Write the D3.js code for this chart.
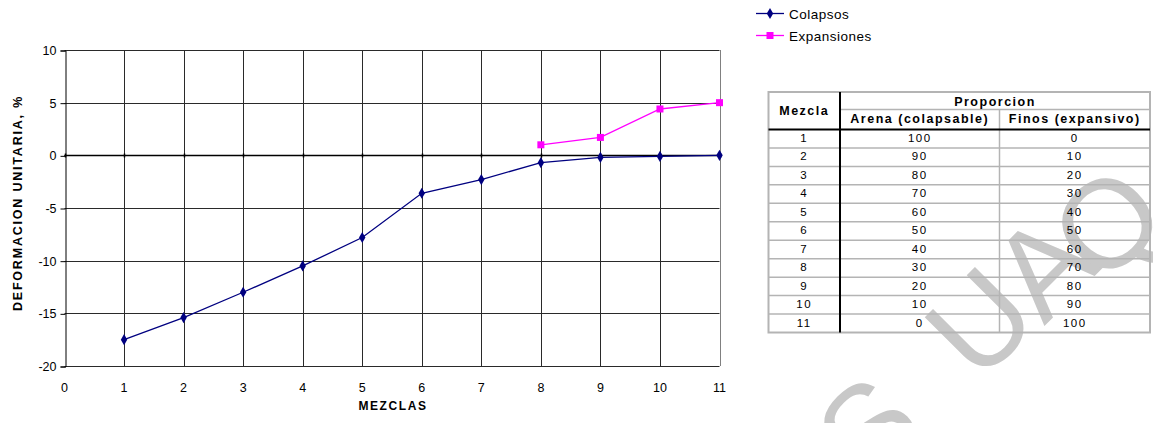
<!DOCTYPE html>
<html>
<head>
<meta charset="utf-8">
<script src="https://cdn.jsdelivr.net/npm/d3@7"></script>
<style>
  html, body { margin: 0; padding: 0; background: #fff; }
  svg { display: block; font-family: "Liberation Sans", Arial, sans-serif; }
</style>
</head>
<body>
<svg id="chart" width="1153" height="423"></svg>
<script>
// Mixture number (x) for each measurement
const mezclas = [1, 2, 3, 4, 5, 6, 7, 8, 9, 10, 11];
// Unit deformation (%) – collapse
const colapsos = [-17.5, -15.4, -13.0, -10.5, -7.8, -3.6, -2.3, -0.7, -0.2, -0.1, 0.0];
// Unit deformation (%) – expansion, measured only for mixtures 8..11
const mezclasExp = [8, 9, 10, 11];
const expansiones = [1.0, 1.7, 4.4, 5.0];

// Axis ticks
const xTicks = [0, 1, 2, 3, 4, 5, 6, 7, 8, 9, 10, 11];
const yTicks = [-20, -15, -10, -5, 0, 5, 10];

// Proportion table
const tablaMezcla = [1, 2, 3, 4, 5, 6, 7, 8, 9, 10, 11];
const tablaArena = [100, 90, 80, 70, 60, 50, 40, 30, 20, 10, 0];
const tablaFinos = [0, 10, 20, 30, 40, 50, 60, 70, 80, 90, 100];

// Watermark letters
const marca = ["S", "U", "A", "Q"];

const svg = d3.select("#chart");

// Watermark, drawn first so the table sits on top of it
const marcaPos = [[868, 428], [980, 322], [1043, 266], [1107, 223]];
svg.append("g").selectAll("text").data(marca).join("text")
  .attr("transform", (d, i) => `translate(${marcaPos[i][0]},${marcaPos[i][1]}) rotate(-45)`)
  .attr("text-anchor", "middle")
  .attr("dominant-baseline", "central")
  .attr("font-size", 125)
  .attr("fill", "#c8c8c8")
  .text(d => d);

const x = d3.scaleLinear().domain([0, 11]).range([64.5, 719.5]);
const y = d3.scaleLinear().domain([-20, 10]).range([366, 50]);

const plot = svg.append("g");

// Horizontal gridlines
plot.append("g").selectAll("line").data(yTicks).join("line")
  .attr("x1", x(0)).attr("x2", x(11))
  .attr("y1", d => Math.round(y(d)) + 0.5).attr("y2", d => Math.round(y(d)) + 0.5)
  .attr("stroke", "#2a2a2a").attr("stroke-width", 1);

// Vertical gridlines
plot.append("g").selectAll("line").data(xTicks.filter(d => d > 0)).join("line")
  .attr("x1", d => Math.round(x(d)) + 0.5).attr("x2", d => Math.round(x(d)) + 0.5)
  .attr("y1", y(10)).attr("y2", y(-20))
  .attr("stroke", d => d === 11 ? "#808080" : "#2a2a2a").attr("stroke-width", 1);

// Value axis (left) with outward ticks
const yAxis = d3.axisLeft(y).tickValues(yTicks).tickSize(5).tickPadding(4).tickFormat(d => String(d));
const gy = plot.append("g").attr("transform", `translate(${Math.round(x(0)) + 0.5},0.5)`).call(yAxis);
gy.select(".domain").attr("stroke", "#000");
gy.selectAll(".tick line").attr("stroke", "#000");
gy.selectAll(".tick text").attr("font-size", 12.5).attr("fill", "#000")
  .attr("font-family", "'Liberation Sans', Arial, sans-serif");

// Category axis crossing at zero, small cross ticks
const gz = plot.append("g").attr("transform", `translate(0,${Math.round(y(0)) + 0.5})`);
gz.append("line").attr("x1", x(0)).attr("x2", x(11)).attr("stroke", "#000").attr("stroke-width", 1.3);
gz.selectAll("line.t").data(xTicks).join("line").attr("class", "t")
  .attr("x1", d => Math.round(x(d)) + 0.5).attr("x2", d => Math.round(x(d)) + 0.5)
  .attr("y1", -2).attr("y2", 2).attr("stroke", "#000").attr("stroke-width", 1.5);

// X tick labels at the bottom
plot.append("g").selectAll("text").data(xTicks).join("text")
  .attr("x", d => x(d)).attr("y", 392)
  .attr("text-anchor", "middle").attr("font-size", 12.5).attr("fill", "#000")
  .text(d => d);

// Axis titles
svg.append("text")
  .attr("x", 393).attr("y", 409.5)
  .attr("text-anchor", "middle").attr("font-size", 12).attr("font-weight", "bold")
  .attr("letter-spacing", 1.6)
  .text("MEZCLAS");

svg.append("text")
  .attr("transform", "translate(21.5,203) rotate(-90)")
  .attr("text-anchor", "middle").attr("font-size", 12.5).attr("font-weight", "bold")
  .attr("letter-spacing", 1.8)
  .text("DEFORMACION UNITARIA, %");

// Series lines
const colData = mezclas.map((m, i) => [m, colapsos[i]]);
const expData = mezclasExp.map((m, i) => [m, expansiones[i]]);
const line = d3.line().x(d => x(d[0])).y(d => y(d[1]));

plot.append("path").datum(colData).attr("d", line)
  .attr("fill", "none").attr("stroke", "#000080").attr("stroke-width", 1.3);
plot.append("path").datum(expData).attr("d", line)
  .attr("fill", "none").attr("stroke", "#ff00ff").attr("stroke-width", 1.3);

const diamond = d3.symbol().type(d3.symbolDiamond).size(36);
plot.append("g").selectAll("path").data(colData).join("path")
  .attr("transform", d => `translate(${x(d[0])},${y(d[1])})`)
  .attr("d", diamond).attr("fill", "#000080");
plot.append("g").selectAll("rect").data(expData).join("rect")
  .attr("x", d => x(d[0]) - 3.5).attr("y", d => y(d[1]) - 3.5)
  .attr("width", 7).attr("height", 7).attr("fill", "#ff00ff");

// Legend
const legend = svg.append("g");
const legendItems = [
  { name: "Colapsos", color: "#000080", shape: "diamond" },
  { name: "Expansiones", color: "#ff00ff", shape: "square" }
];
legendItems.forEach((it, i) => {
  const ly = 13.5 + i * 22;
  legend.append("line").attr("x1", 756).attr("x2", 784).attr("y1", ly).attr("y2", ly)
    .attr("stroke", it.color).attr("stroke-width", 1.3);
  if (it.shape === "diamond") {
    legend.append("path").attr("transform", `translate(770,${ly})`).attr("d", diamond).attr("fill", it.color);
  } else {
    legend.append("rect").attr("x", 766.5).attr("y", ly - 3.5).attr("width", 7).attr("height", 7).attr("fill", it.color);
  }
  legend.append("text").attr("x", 789).attr("y", ly + 5).attr("font-size", 13.5)
    .attr("letter-spacing", 0.5).attr("fill", "#000").text(it.name);
});

// Proportion table
const tbl = svg.append("g");
const colX = [768.5, 840, 999.5, 1150];
const topY = 92, h1 = 109.5, h2 = 129.5, bottomY = 332.5;
const rowH = (bottomY - h2) / tablaMezcla.length;
const gray = "#b4b4b4";

// Row separators
tbl.append("g").selectAll("line").data(d3.range(1, tablaMezcla.length)).join("line")
  .attr("x1", colX[0]).attr("x2", colX[3])
  .attr("y1", d => h2 + d * rowH).attr("y2", d => h2 + d * rowH)
  .attr("stroke", gray).attr("stroke-width", 1.5);
tbl.append("line").attr("x1", colX[1]).attr("x2", colX[3]).attr("y1", h1).attr("y2", h1)
  .attr("stroke", gray).attr("stroke-width", 1.5);
tbl.append("line").attr("x1", colX[2]).attr("x2", colX[2]).attr("y1", h1).attr("y2", bottomY)
  .attr("stroke", gray).attr("stroke-width", 1.5);
// Outer border
tbl.append("rect").attr("x", colX[0]).attr("y", topY)
  .attr("width", colX[3] - colX[0]).attr("height", bottomY - topY)
  .attr("fill", "none").attr("stroke", gray).attr("stroke-width", 2);
// Heavy separators
tbl.append("line").attr("x1", colX[0]).attr("x2", colX[3]).attr("y1", h2).attr("y2", h2)
  .attr("stroke", "#000").attr("stroke-width", 2);
tbl.append("line").attr("x1", colX[1]).attr("x2", colX[1]).attr("y1", topY).attr("y2", bottomY)
  .attr("stroke", "#000").attr("stroke-width", 2);

// Header text
const hdr = (tx, ty, s) => tbl.append("text").attr("x", tx).attr("y", ty)
  .attr("text-anchor", "middle").attr("font-size", 12.5).attr("font-weight", "bold")
  .attr("letter-spacing", 1.5).attr("fill", "#000").text(s);
hdr((colX[0] + colX[1]) / 2, 114.5, "Mezcla");
hdr((colX[1] + colX[3]) / 2, 106, "Proporcion");
hdr((colX[1] + colX[2]) / 2, 123, "Arena (colapsable)");
hdr((colX[2] + colX[3]) / 2, 123, "Finos (expansivo)");

// Body text
const cols = [tablaMezcla, tablaArena, tablaFinos];
cols.forEach((vals, c) => {
  tbl.append("g").selectAll("text").data(vals).join("text")
    .attr("x", (colX[c] + colX[c + 1]) / 2)
    .attr("y", (d, i) => h2 + i * rowH + 12.5)
    .attr("text-anchor", "middle").attr("font-size", 11.5).attr("letter-spacing", 1.5)
    .attr("fill", "#000").text(d => d);
});
</script>
</body>
</html>
